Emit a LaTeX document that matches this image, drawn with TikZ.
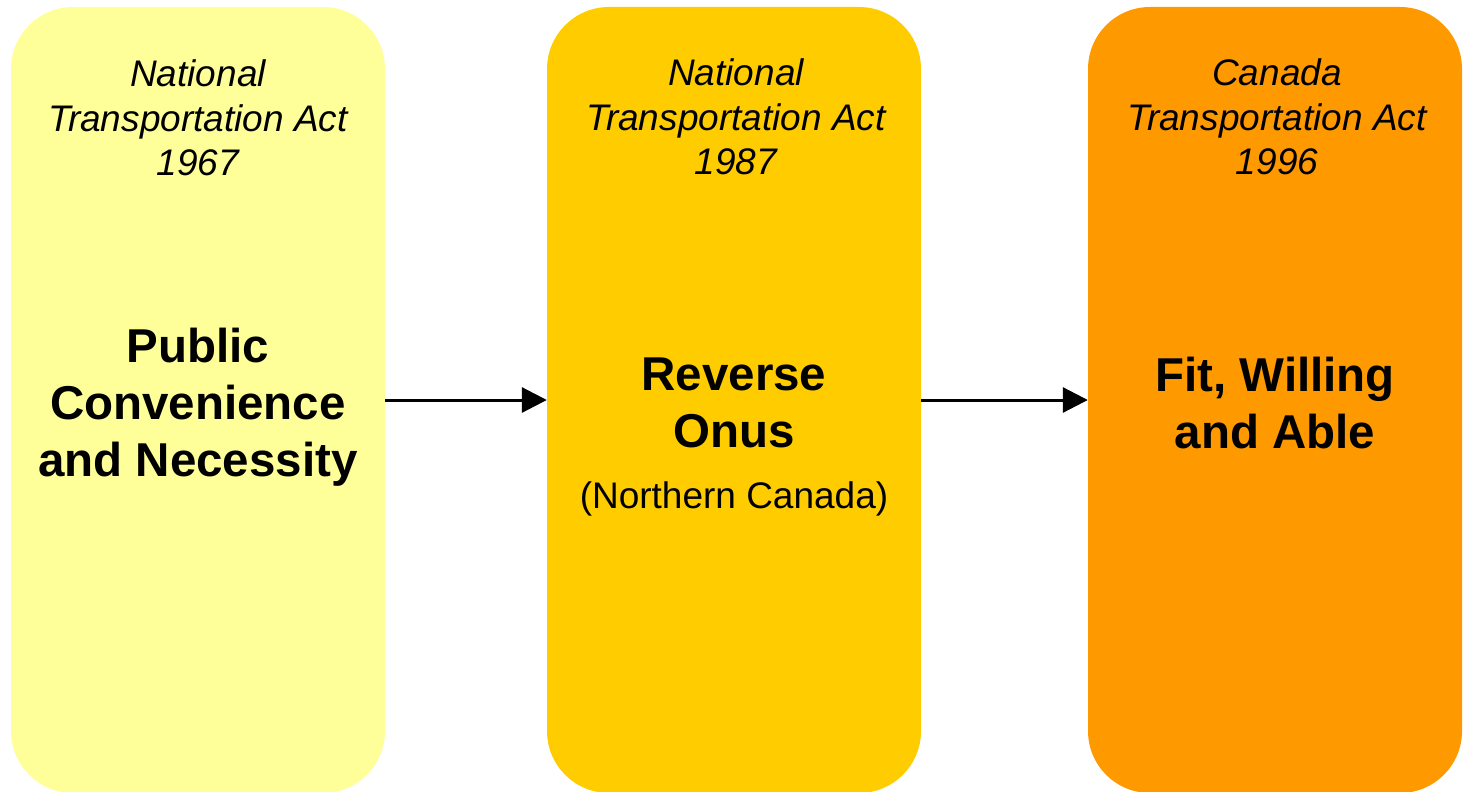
\documentclass[tikz,border=0pt]{standalone}
\usepackage{fontspec}
\setmainfont{Liberation Sans}
\usetikzlibrary{arrows.meta}
\definecolor{boxA}{HTML}{FFFF99}
\definecolor{boxB}{HTML}{FFCC00}
\definecolor{boxC}{HTML}{FF9900}
\tikzset{
  actbox/.style={draw=none, inner sep=0pt, minimum width=374pt, minimum height=786pt, rounded corners=62pt},
  acttitle/.style={align=center, inner sep=0pt, font=\fontsize{37}{44.5}\selectfont\itshape},
  actmain/.style={align=center, inner sep=0pt, font=\fontsize{47.5}{57}\selectfont\bfseries},
  actnote/.style={align=center, inner sep=0pt, font=\fontsize{37}{44.5}\selectfont},
  flow/.style={line width=3pt, -{Triangle[length=25pt,width=25pt]}}
}
\begin{document}
\begin{tikzpicture}[x=1pt,y=-1pt]
\useasboundingbox (0,0) rectangle (1467,792);
\node[actbox, fill=boxA] (b1) at (198,400) {};
\node[actbox, fill=boxB] (b2) at (734,400) {};
\node[actbox, fill=boxC] (b3) at (1275,400) {};
\node[acttitle] (t1) at (198,118) {National\\Transportation Act\\1967};
\node[acttitle] (t2) at (736,117) {National\\Transportation Act\\1987};
\node[acttitle] (t3) at (1277,117) {Canada\\Transportation Act\\1996};
\node[actmain] (m1) at (198,407) {Public\\Convenience\\and Necessity};
\node[actmain] (m2) at (734,403) {Reverse\\Onus};
\node[actnote] (n2) at (734,499) {(Northern Canada)};
\node[actmain] (m3) at (1275,403) {Fit, Willing\\and Able};
\draw[flow] (b1) -- (b2);
\draw[flow] (b2) -- (b3);
\end{tikzpicture}
\end{document}
